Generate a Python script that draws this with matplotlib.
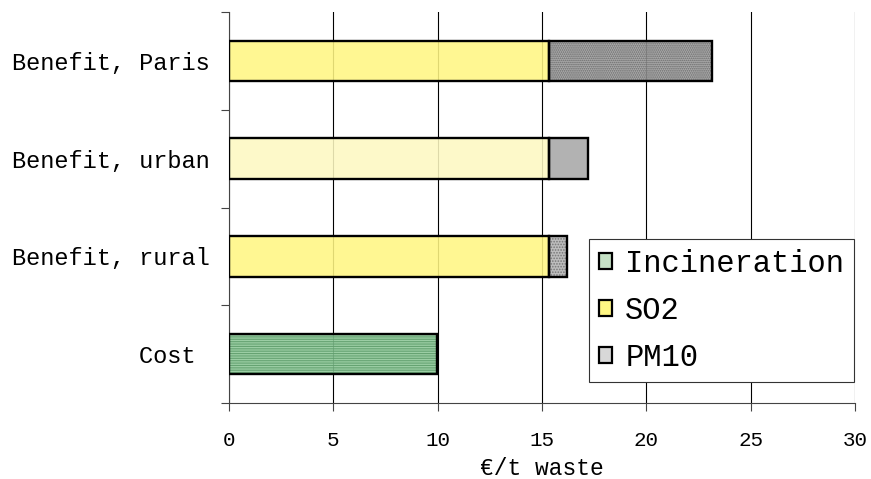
import numpy as np
import matplotlib
matplotlib.use("Agg")
import matplotlib.pyplot as plt
from matplotlib.patches import Patch
from matplotlib.ticker import FixedLocator

plt.rcParams["font.family"] = ["Liberation Mono", "DejaVu Sans Mono"]
plt.rcParams["hatch.linewidth"] = 0.8

# ---------------------------------------------------------------
# data (bottom -> top)
# ---------------------------------------------------------------
categories = ["Cost ", "Benefit, rural", "Benefit, urban", "Benefit, Paris"]
incineration = [9.95, 0.0, 0.0, 0.0]
so2 = [0.0, 15.35, 15.35, 15.35]
pm10 = [0.0, 0.87, 1.86, 7.79]
xticks = [0, 5, 10, 15, 20, 25, 30]

# per-category fill styles: (face, hatch colour, hatch)
so2_style = [None, ("#fff683", None, ""), ("#fdf9c2", None, ""), ("#fff683", None, "")]
pm10_style = [None, ("#b4b4b4", "#6e6e6e", "......"), ("#a8a8a8", None, ""),
              ("#a0a0a0", "#606060", "........")]
inc_style = [("#8dc898", "#5e9d6b", "-------"), None, None, None]


def draw_segment(ax, y, left, width, style, h=0.41):
    face, hcol, hatch = style
    # fill (+ hatch, whose colour follows the edge colour)
    ax.barh(y, width, left=left, height=h, color=face, alpha=0.88,
            edgecolor=hcol if hcol else face, linewidth=0, hatch=hatch or None,
            zorder=2)
    # outline
    ax.barh(y, width, left=left, height=h, color="none",
            edgecolor="black", linewidth=1.7, zorder=3)


fig = plt.figure(figsize=(8.71, 4.79), dpi=100)
ax = fig.add_axes([229 / 871, 1 - 403.3 / 479, (855 - 229) / 871, (403.3 - 11.7) / 479])

y = np.arange(len(categories))
for i in y:
    if incineration[i] > 0:
        draw_segment(ax, i, 0, incineration[i], inc_style[i])
    if so2[i] > 0:
        draw_segment(ax, i, 0, so2[i], so2_style[i])
    if pm10[i] > 0:
        draw_segment(ax, i, so2[i], pm10[i], pm10_style[i])

ax.set_xlim(0, 30)
ax.set_ylim(-0.5, len(categories) - 0.5)

ax.set_xticks(xticks)
ax.set_xticklabels([str(v) for v in xticks], fontsize=15)
ax.set_yticks(y)
ax.set_yticklabels(categories, fontsize=17)
ax.yaxis.set_minor_locator(FixedLocator(np.arange(-0.5, len(categories), 1.0)))
ax.tick_params(axis="y", which="major", length=0, pad=14)
ax.tick_params(axis="y", which="minor", length=6, width=0.8, color="#444444")
ax.tick_params(axis="x", which="major", length=6, width=0.8, color="#444444", pad=14)

ax.grid(True, axis="x", color="black", linewidth=0.8, zorder=0)
ax.set_axisbelow(True)
for s in ("top", "right"):
    ax.spines[s].set_visible(False)
for s in ("left", "bottom"):
    ax.spines[s].set_color("#444444")
    ax.spines[s].set_linewidth(0.8)

ax.set_xlabel("€/t waste", fontsize=16.5, labelpad=5)

plt.rcParams["hatch.linewidth"] = 0.6
handles = [
    Patch(facecolor="#c6e2c6", edgecolor="black", linewidth=1.6, label="Incineration"),
    Patch(facecolor="#fff784", edgecolor="black", linewidth=1.6, label="SO2"),
    Patch(facecolor="#d8d8d8", edgecolor="black", linewidth=1.6, label="PM10"),
]
leg = ax.legend(handles=handles, loc="upper right", fontsize=22,
                bbox_to_anchor=(854 / 871, 1 - 239.3 / 479),
                bbox_transform=fig.transFigure, borderaxespad=0,
                handlelength=0.45, handleheight=0.45, handletextpad=0.42,
                labelspacing=0.55, borderpad=0.32, fancybox=False,
                framealpha=1, edgecolor="#333333")
leg.get_frame().set_linewidth(0.8)

fig.savefig("out.png", dpi=100)
